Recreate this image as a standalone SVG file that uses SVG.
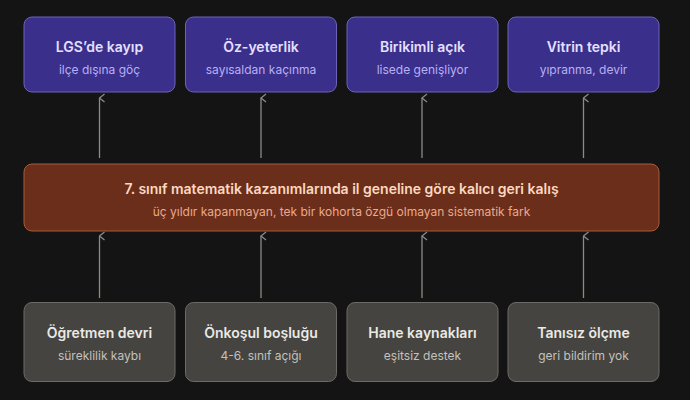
<svg xmlns="http://www.w3.org/2000/svg" width="690" height="400" viewBox="0 0 690 400">
<defs>
<style>
text{font-family:Inter,"Noto Sans","DejaVu Sans",sans-serif;text-anchor:middle}
.t{font-size:14px;font-weight:600}
.s{font-size:12px}
.top rect{fill:#3b2f8c;stroke:#6c62b8;stroke-width:1}
.top .t{fill:#e4e0ff}.top .s{fill:#b8b0f2}
.mid rect{fill:#6a2e1b;stroke:#a65c3c;stroke-width:1}
.mid .t{fill:#fcd8c0}.mid .s{fill:#eaa98a}
.bot rect{fill:#454440;stroke:#6c6b67;stroke-width:1}
.bot .t{fill:#ebe9e3}.bot .s{fill:#c3c1bb}
.c line{stroke:#8a8a88;stroke-width:1.3;marker-end:url(#a)}
</style>
<marker id="a" markerWidth="10" markerHeight="10" refX="5" refY="1" orient="auto-start-reverse" markerUnits="userSpaceOnUse" viewBox="0 0 10 10">
<path d="M1 6 L5 1 L9 6" fill="none" stroke="#8a8a88" stroke-width="1.3"/>
</marker>
</defs>
<rect width="690" height="400" fill="#141414"/>
<g class="c">
<line x1="99.5" y1="158" x2="99.5" y2="98"/>
<line x1="261" y1="158" x2="261" y2="98"/>
<line x1="422" y1="158" x2="422" y2="98"/>
<line x1="583.5" y1="158" x2="583.5" y2="98"/>
<line x1="99.5" y1="298" x2="99.5" y2="236"/>
<line x1="261" y1="298" x2="261" y2="236"/>
<line x1="422" y1="298" x2="422" y2="236"/>
<line x1="583.5" y1="298" x2="583.5" y2="236"/>
</g>
<g id="n1" class="top"><rect x="24" y="17" width="151" height="75" rx="8"/><text class="t" x="99.5" y="52">LGS’de kayıp</text><text class="s" x="99.5" y="74">ilçe dışına göç</text></g>
<g id="n2" class="top"><rect x="185.5" y="17" width="151" height="75" rx="8"/><text class="t" x="261" y="52">Öz-yeterlik</text><text class="s" x="261" y="74">sayısaldan kaçınma</text></g>
<g id="n3" class="top"><rect x="347" y="17" width="151" height="75" rx="8"/><text class="t" x="422.5" y="52">Birikimli açık</text><text class="s" x="422.5" y="74">lisede genişliyor</text></g>
<g id="n4" class="top"><rect x="508" y="17" width="151" height="75" rx="8"/><text class="t" x="583.5" y="52">Vitrin tepki</text><text class="s" x="583.5" y="74">yıpranma, devir</text></g>
<g id="m" class="mid"><rect x="24" y="164" width="635" height="67" rx="8"/><text class="t" x="341.5" y="194">7. sınıf matematik kazanımlarında il geneline göre kalıcı geri kalış</text><text class="s" x="341.5" y="216">üç yıldır kapanmayan, tek bir kohorta özgü olmayan sistematik fark</text></g>
<g id="b1" class="bot"><rect x="24" y="302.5" width="151" height="79" rx="8"/><text class="t" x="99.5" y="338">Öğretmen devri</text><text class="s" x="99.5" y="360">süreklilik kaybı</text></g>
<g id="b2" class="bot"><rect x="185.5" y="302.5" width="151" height="79" rx="8"/><text class="t" x="261" y="338">Önkoşul boşluğu</text><text class="s" x="261" y="360">4-6. sınıf açığı</text></g>
<g id="b3" class="bot"><rect x="347" y="302.5" width="151" height="79" rx="8"/><text class="t" x="422.5" y="338">Hane kaynakları</text><text class="s" x="422.5" y="360">eşitsiz destek</text></g>
<g id="b4" class="bot"><rect x="508" y="302.5" width="151" height="79" rx="8"/><text class="t" x="583.5" y="338">Tanısız ölçme</text><text class="s" x="583.5" y="360">geri bildirim yok</text></g>
</svg>
